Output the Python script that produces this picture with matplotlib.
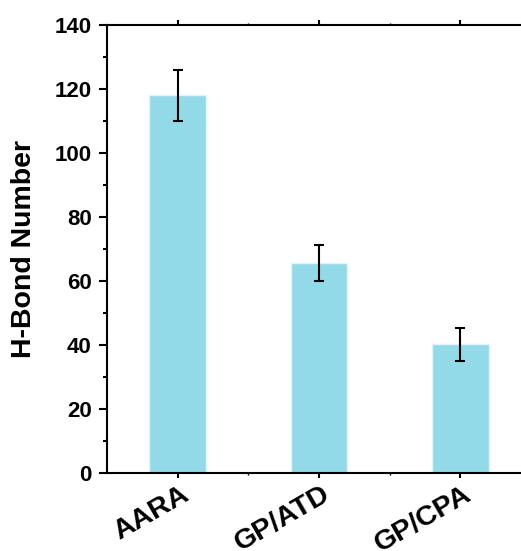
import numpy as np
import matplotlib.pyplot as plt
from matplotlib.ticker import FixedLocator, MultipleLocator
from matplotlib.transforms import ScaledTranslation

plt.rcParams['font.family'] = ['Liberation Sans', 'DejaVu Sans']
plt.rcParams['font.weight'] = 'bold'

# mean H-bond count per system, with std dev
groups = ["AARA", "GP/ATD", "GP/CPA"]
hbond = [118, 65.5, 40.1]
hbond_err = [8, 5.6, 5.1]

fig = plt.figure(figsize=(5.21, 5.51), dpi=100)
ax = fig.add_axes([0.2054, 0.1421, 0.8136, 0.8125])

x = np.arange(len(groups))
ax.bar(x, hbond, width=0.4, color='#93dae9', edgecolor='#e2f4f8', linewidth=1.0, zorder=2)
ax.errorbar(x, hbond, yerr=hbond_err, fmt='none', ecolor='black',
            elinewidth=1.5, capsize=3.3, capthick=1.5, zorder=3)

ax.set_xlim(-0.5, 2.5)
ax.set_ylim(0, 140)

for s in ax.spines.values():
    s.set_linewidth(1.5)
ax.spines['right'].set_visible(False)

ax.yaxis.set_major_locator(MultipleLocator(20))
ax.yaxis.set_minor_locator(MultipleLocator(10))
ax.tick_params(axis='y', which='major', direction='out', length=6, width=1.5, labelsize=16, pad=5)
ax.tick_params(axis='y', which='minor', direction='out', length=3, width=1.5)

ax.set_xticks(x)
ax.xaxis.set_minor_locator(FixedLocator([0.5, 1.5]))
ax.tick_params(axis='x', which='major', direction='out', length=3.5, width=1.5, labelsize=20.5)
ax.tick_params(axis='x', which='minor', direction='out', length=1.5, width=1.0)
ax.tick_params(axis='x', which='both', top=True)

ax.set_xticklabels(groups, rotation=30, ha='right', va='center', rotation_mode='anchor')
shift = ScaledTranslation(9 / 100, -10 / 100, fig.dpi_scale_trans)
for lab in ax.get_xticklabels():
    lab.set_transform(lab.get_transform() + shift)

ax.set_ylabel("H-Bond Number", fontsize=20.5, fontweight='bold', labelpad=13)

fig.savefig("out.png", dpi=100)
